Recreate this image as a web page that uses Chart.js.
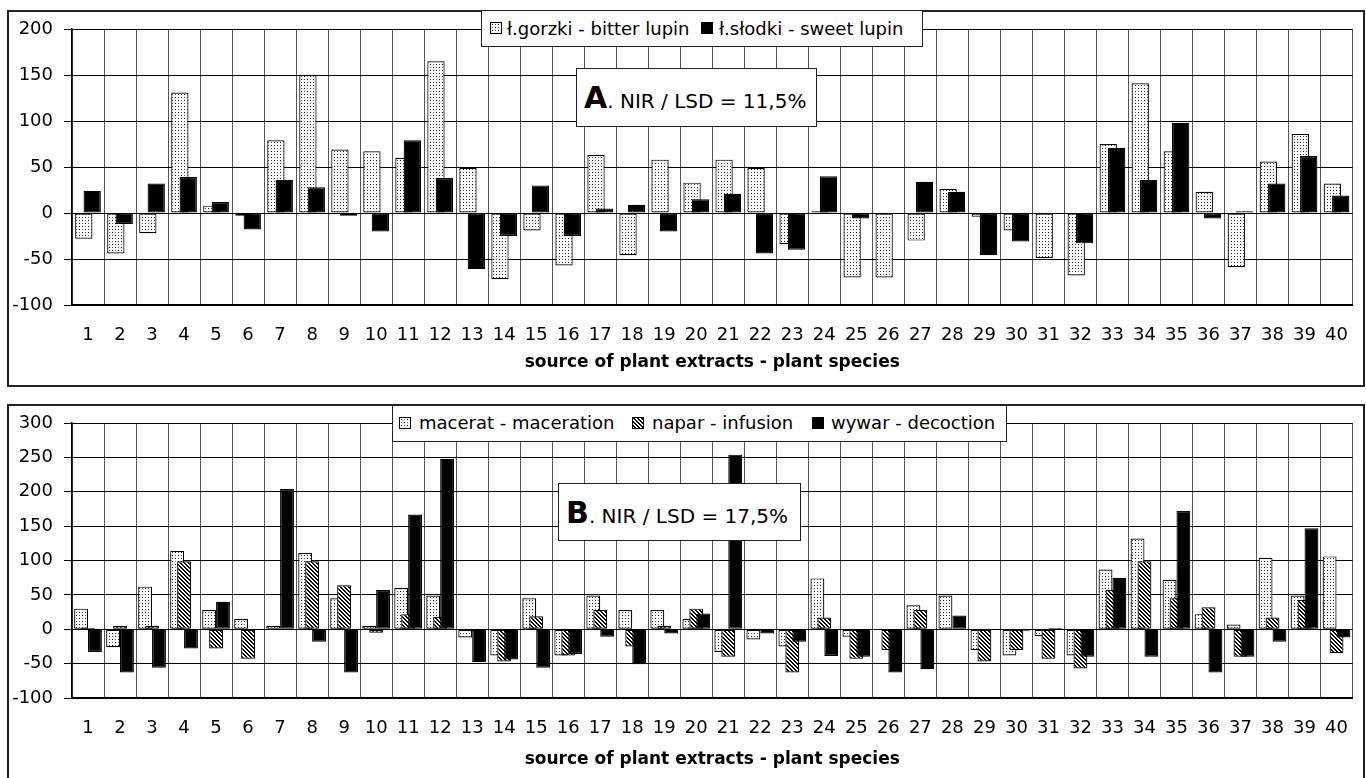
<!DOCTYPE html>
<html>
<head>
<meta charset="utf-8">
<script src="https://cdn.jsdelivr.net/npm/chart.js@4.4.1/dist/chart.umd.min.js"></script>
<style>
  body { margin: 0; width: 1366px; height: 778px; overflow: hidden; position: relative; background: #fff; font-family: 'DejaVu Sans', sans-serif; color: #000; }
  .panel { position: absolute; box-sizing: border-box; border: 2px solid #222; }
  .chart { position: absolute; left: 0; width: 1368px; }
  .legend, .note { position: absolute; box-sizing: border-box; background: #fff; border: 1px solid #222; }
  .sw { position: absolute; width: 12px; height: 12px; box-sizing: border-box; border: 1px solid #000; }
  .lt { position: absolute; top: 0; font-size: 18px; white-space: nowrap; }
  .note { display: flex; align-items: center; padding-left: 7px; font-size: 20px; white-space: nowrap; }
  .note b { font-size: 30px; }
</style>
</head>
<body>
<div class="panel" style="left:7px;top:10px;width:1358px;height:377px"></div>
<div class="panel" style="left:7px;top:404px;width:1358px;height:420px"></div>

<div class="chart" style="top:0;height:395px"><canvas id="chartA"></canvas></div>
<div class="chart" style="top:395px;height:383px"><canvas id="chartB"></canvas></div>

<div class="legend" style="left:481px;top:10px;width:442px;height:37px">
  <span class="sw dots" style="left:8px;top:11px"></span><span class="lt" style="left:25px;line-height:35px">ł.gorzki - bitter lupin</span>
  <span class="sw solid" style="left:219px;top:11px"></span><span class="lt" style="left:237px;line-height:35px">ł.słodki - sweet lupin</span>
</div>
<div class="note" style="left:576px;top:68px;width:241px;height:59px"><span><b>A</b>. NIR / LSD = 11,5%</span></div>

<div class="legend" style="left:392px;top:405px;width:615px;height:37px">
  <span class="sw dots" style="left:6px;top:11px"></span><span class="lt" style="left:26px;line-height:33px">macerat - maceration</span>
  <span class="sw hatch" style="left:239px;top:11px"></span><span class="lt" style="left:259px;line-height:33px">napar - infusion</span>
  <span class="sw solid" style="left:419px;top:11px"></span><span class="lt" style="left:438px;line-height:33px">wywar - decoction</span>
</div>
<div class="note" style="left:558px;top:483px;width:243px;height:58px"><span><b>B</b>. NIR / LSD = 17,5%</span></div>

<script>
// plant species 1..40
const plantSpecies = ['1','2','3','4','5','6','7','8','9','10','11','12','13','14','15','16','17','18','19','20',
  '21','22','23','24','25','26','27','28','29','30','31','32','33','34','35','36','37','38','39','40'];

// panel A - lupin
const bitterLupin = [-28, -44, -22, 131, 8, -3, 79, 150, 69, 67, 60, 165, 49, -72, -19, -57, 63, -46, 58, 33,
  58, 49, -34, 2, -70, -70, -30, 26, -4, -19, -49, -68, 75, 141, 67, 23, -59, 56, 86, 32];
const sweetLupin = [24, -12, 32, 39, 12, -18, 36, 28, -3, -20, 79, 38, -61, -25, 30, -25, 5, 9, -20, 15,
  21, -44, -40, 40, -6, null, 34, 23, -46, -31, null, -33, 71, 36, 98, -6, 2, 32, 62, 19];

// panel B - extract type
const maceration = [30, -26, 62, 114, 28, 15, 5, 111, 45, 5, 60, 49, -12, -38, 45, -38, 49, 28, 28, 15,
  -33, -15, -25, 74, -11, null, 35, 49, -30, -38, -10, -38, 87, 132, 72, 22, 7, 104, 49, 106];
const infusion = [2, 5, 5, 99, -28, -43, null, 99, 64, -5, 22, 18, -3, -47, 19, -38, 28, -25, 5, 30,
  -40, null, -63, 17, -43, -30, 28, null, -47, -30, -43, -57, 57, 99, 45, 32, -40, 17, 43, -35];
const decoction = [-33, -63, -56, -28, 40, null, 204, -18, -63, 57, 167, 248, -48, -44, -56, -36, -11, -51, -6, 23,
  254, -6, -18, -39, -40, -63, -58, 20, null, -2, 2, -40, 75, -40, 172, -63, -40, -18, 147, -12];

const ticksA = { min: -100, max: 200, step: 50 };
const ticksB = { min: -100, max: 300, step: 50 };

// fill patterns
function makeTile(kind) {
  const n = kind === 'dots' ? 6 : 8;
  const c = document.createElement('canvas');
  c.width = n; c.height = n;
  const g = c.getContext('2d');
  g.fillStyle = '#fff';
  g.fillRect(0, 0, n, n);
  g.fillStyle = '#000';
  if (kind === 'dots') {
    g.fillRect(1, 1, 1, 1);
    g.fillRect(4, 4, 1, 1);
    g.fillStyle = '#555';
    g.fillRect(4, 1, 1, 1);
    g.fillRect(1, 4, 1, 1);
  } else {
    // "\" stripes, period 4
    for (let y = 0; y < n; y++)
      for (let x = 0; x < n; x++)
        if (((x - y + 16) % 4) < 2) g.fillRect(x, y, 1, 1);
  }
  return c;
}
const dotTile = makeTile('dots');
const hatchTile = makeTile('hatch');
document.querySelectorAll('.sw.dots').forEach(e => e.style.background = 'url(' + dotTile.toDataURL() + ')');
document.querySelectorAll('.sw.hatch').forEach(e => e.style.background = 'url(' + hatchTile.toDataURL() + ')');
document.querySelectorAll('.sw.solid').forEach(e => e.style.background = '#000');

// later datasets sit on top of earlier ones, like the overlapping bars of the original
const forwardOrder = {
  id: 'forwardOrder',
  beforeDatasetsDraw(chart) {
    chart.getSortedVisibleDatasetMetas().forEach(m => m.controller.draw());
    return false;
  }
};

const tickFont = { family: 'DejaVu Sans', size: 18 };
const titleFont = { family: 'DejaVu Sans', size: 17, weight: 'bold' };

function axes(range, xHeight, titlePad) {
  return {
    x: {
      grid: { offset: true, color: '#555', lineWidth: 1, drawTicks: false },
      border: { color: '#000', width: 2 },
      ticks: { font: tickFont, color: '#000', padding: 20, maxRotation: 0, autoSkip: false },
      title: { display: true, text: 'source of plant extracts - plant species', font: titleFont, color: '#000', padding: { top: 0, bottom: titlePad } },
      afterFit(s) { s.height = xHeight; }
    },
    y: {
      min: range.min,
      max: range.max,
      ticks: { stepSize: range.step, font: tickFont, color: '#000', padding: 11 },
      grid: { color: '#000', lineWidth: 1, tickLength: 8 },
      border: { color: '#000', width: 1.5 },
      afterFit(s) { s.width = 72; }
    }
  };
}

const chartA = document.getElementById('chartA');
const ctxA = chartA.getContext('2d');
new Chart(chartA, {
  type: 'bar',
  data: {
    labels: plantSpecies,
    datasets: [{
      label: 'ł.gorzki - bitter lupin',
      data: bitterLupin,
      backgroundColor: ctxA.createPattern(dotTile, 'repeat'),
      borderColor: '#000',
      borderWidth: 1.2,
      borderSkipped: false,
      categoryPercentage: 0.525,
      barPercentage: 2.06
    }, {
      label: 'ł.słodki - sweet lupin',
      data: sweetLupin,
      backgroundColor: '#000',
      borderColor: '#000',
      borderWidth: 1.2,
      borderSkipped: false,
      categoryPercentage: 0.525,
      barPercentage: 2.06
    }]
  },
  options: {
    responsive: true,
    maintainAspectRatio: false,
    animation: false,
    layout: { padding: { left: 0, top: 29, right: 1, bottom: 0 } },
    plugins: { legend: { display: false }, tooltip: { enabled: false } },
    scales: axes(ticksA, 90, 22)
  },
  plugins: [forwardOrder]
});

const chartB = document.getElementById('chartB');
const ctxB = chartB.getContext('2d');
new Chart(chartB, {
  type: 'bar',
  data: {
    labels: plantSpecies,
    datasets: [{
      label: 'macerat - maceration',
      data: maceration,
      backgroundColor: ctxB.createPattern(dotTile, 'repeat'),
      borderColor: '#000',
      borderWidth: 1.2,
      borderSkipped: false,
      categoryPercentage: 0.65,
      barPercentage: 2.0
    }, {
      label: 'napar - infusion',
      data: infusion,
      backgroundColor: ctxB.createPattern(hatchTile, 'repeat'),
      borderColor: '#000',
      borderWidth: 1.2,
      borderSkipped: false,
      categoryPercentage: 0.65,
      barPercentage: 2.0
    }, {
      label: 'wywar - decoction',
      data: decoction,
      backgroundColor: '#000',
      borderColor: '#000',
      borderWidth: 1.2,
      borderSkipped: false,
      categoryPercentage: 0.65,
      barPercentage: 2.0
    }]
  },
  options: {
    responsive: true,
    maintainAspectRatio: false,
    animation: false,
    layout: { padding: { left: 0, top: 28, right: 1, bottom: 0 } },
    plugins: { legend: { display: false }, tooltip: { enabled: false } },
    scales: axes(ticksB, 80, 8)
  },
  plugins: [forwardOrder]
});
</script>
</body>
</html>
